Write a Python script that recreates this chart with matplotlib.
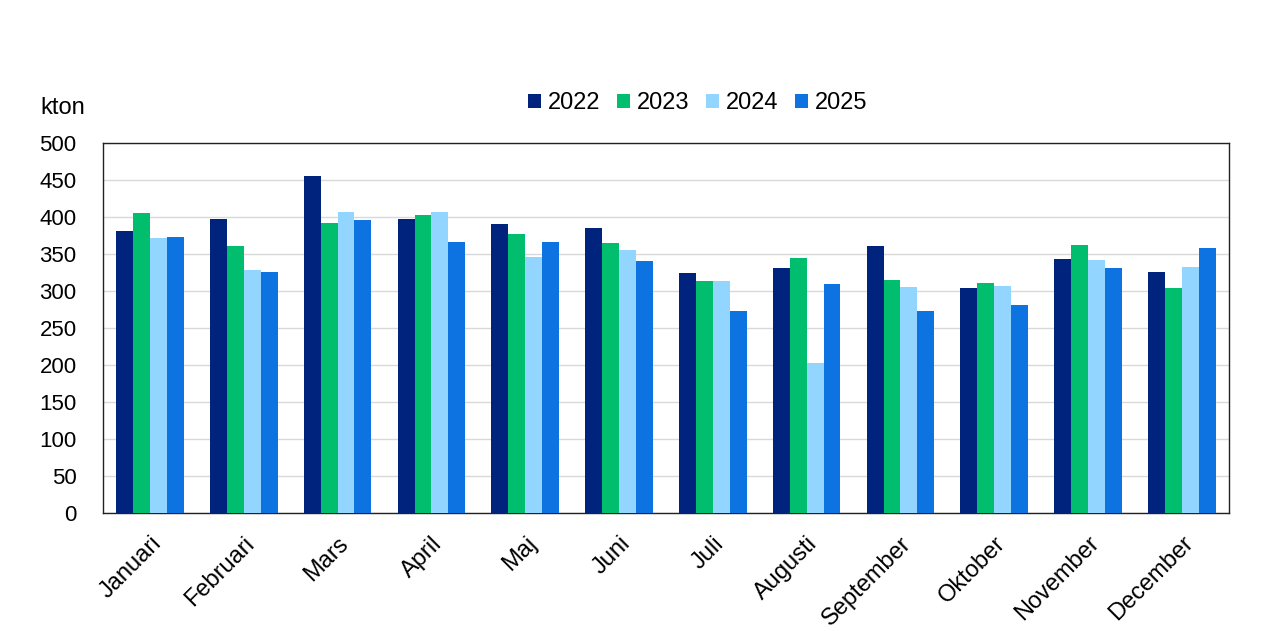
import numpy as np
import matplotlib
matplotlib.use('Agg')
import matplotlib.pyplot as plt

months = ["Januari", "Februari", "Mars", "April", "Maj", "Juni", "Juli",
          "Augusti", "September", "Oktober", "November", "December"]
years = ["2022", "2023", "2024", "2025"]

v2022 = [381, 397, 455, 397, 391, 385, 324, 331, 361, 304, 343, 326]
v2023 = [405, 361, 392, 403, 377, 365, 313, 345, 315, 311, 362, 304]
v2024 = [371, 328, 407, 407, 346, 355, 313, 203, 305, 307, 342, 332]
v2025 = [373, 325, 396, 366, 366, 340, 273, 309, 273, 281, 331, 358]

colors = ["#00247D", "#00BE6E", "#92D5FF", "#0C73E0"]

plt.rcParams['font.family'] = ['Liberation Sans', 'DejaVu Sans']

fig = plt.figure(figsize=(12.8, 6.31), dpi=100)
ax = fig.add_axes([0.0805, 0.187, 0.8795, 0.5864])

x = np.arange(len(months))
w = 0.18
series = [v2022, v2023, v2024, v2025]
for i, (vals, c, lab) in enumerate(zip(series, colors, years)):
    ax.bar(x + (i - 1.5) * w, vals, width=w, color=c, label=lab, zorder=3)

ax.set_xlim(-0.5, len(months) - 0.5)
ax.set_ylim(0, 500)
ax.set_yticks(range(0, 501, 50))
ax.yaxis.grid(True, color="#D9D9D9", linewidth=1, zorder=0)
ax.tick_params(axis='y', length=0, labelsize=16, pad=19)
ax.tick_params(axis='x', length=0, labelsize=17, pad=14)
ax.set_xticks(x)
ax.set_xticklabels(months, rotation=45, ha='right', va='top', rotation_mode='anchor')
for s in ax.spines.values():
    s.set_color("#222222")
    s.set_linewidth(1)

fig.text(40 / 1280, 1 - 108 / 631, "kton", fontsize=17, ha='left', va='center')

ax.legend(loc='center', bbox_to_anchor=(697.5 / 1280, 1 - 103 / 631),
          bbox_transform=fig.transFigure, ncol=4, frameon=False,
          fontsize=17, handlelength=0.55, handleheight=0.55, handletextpad=0.3,
          columnspacing=0.7, borderaxespad=0, borderpad=0)

fig.savefig("out.png", dpi=100)
